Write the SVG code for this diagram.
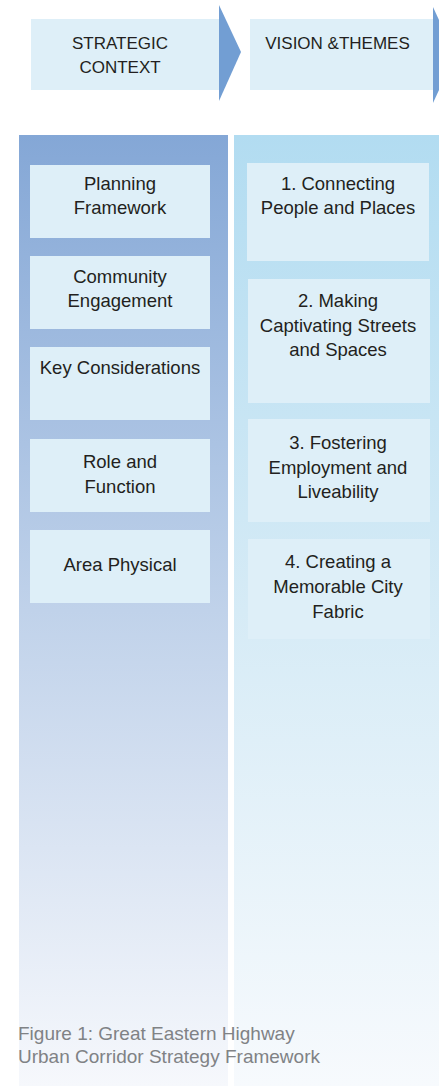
<svg xmlns="http://www.w3.org/2000/svg" width="439" height="1086" viewBox="0 0 439 1086">
  <defs>
    <linearGradient id="gradContext" x1="0" y1="0" x2="0" y2="1">
      <stop offset="0" stop-color="#84a7d6"/>
      <stop offset="0.5" stop-color="#c0d2ea"/>
      <stop offset="1" stop-color="#f6f8fc"/>
    </linearGradient>
    <linearGradient id="gradThemes" x1="0" y1="0" x2="0" y2="1">
      <stop offset="0" stop-color="#b2dcf1"/>
      <stop offset="0.5" stop-color="#d6ebf6"/>
      <stop offset="1" stop-color="#f7fafd"/>
    </linearGradient>
    <style>
      .box { fill: #deeff8; }
      .chevron { fill: #729ed3; }
      .label { font-family: "Liberation Sans", Arial, sans-serif; font-size: 18.5px; fill: #231f20; text-anchor: middle; }
      .head { font-family: "Liberation Sans", Arial, sans-serif; font-size: 17px; fill: #231f20; text-anchor: middle; }
      .caption { font-family: "Liberation Sans", Arial, sans-serif; font-size: 19px; fill: #808285; }
    </style>
  </defs>

  <rect width="439" height="1086" fill="#ffffff"/>

  <!-- Column backgrounds -->
  <rect x="19" y="135" width="209" height="951" fill="url(#gradContext)"/>
  <rect x="234" y="135" width="205" height="951" fill="url(#gradThemes)"/>

  <!-- Header stages -->
  <g id="header-strategic-context">
    <rect class="box" x="31" y="19" width="188" height="71"/>
    <polygon class="chevron" points="219,5 241,52 219,101"/>
    <text class="head" x="120" y="49">STRATEGIC</text>
    <text class="head" x="120" y="73">CONTEXT</text>
  </g>
  <g id="header-vision-themes">
    <rect class="box" x="250" y="19" width="183" height="71"/>
    <polygon class="chevron" points="433,7 455,55 433,103"/>
    <text class="head" x="337.5" y="49">VISION &amp;THEMES</text>
  </g>

  <!-- Strategic context items -->
  <g id="planning-framework">
    <rect class="box" x="30" y="165" width="180" height="73"/>
    <text class="label" x="120" y="190">Planning</text>
    <text class="label" x="120" y="214">Framework</text>
  </g>
  <g id="community-engagement">
    <rect class="box" x="30" y="256" width="180" height="73"/>
    <text class="label" x="120" y="283">Community</text>
    <text class="label" x="120" y="307">Engagement</text>
  </g>
  <g id="key-considerations">
    <rect class="box" x="30" y="347" width="180" height="73"/>
    <text class="label" x="120" y="374">Key Considerations</text>
  </g>
  <g id="role-and-function">
    <rect class="box" x="30" y="439" width="180" height="73"/>
    <text class="label" x="120" y="468">Role and</text>
    <text class="label" x="120" y="493">Function</text>
  </g>
  <g id="area-physical">
    <rect class="box" x="30" y="530" width="180" height="73"/>
    <text class="label" x="120" y="571">Area Physical</text>
  </g>

  <!-- Vision themes -->
  <g id="theme-1">
    <rect class="box" x="247" y="163" width="182" height="98"/>
    <text class="label" x="338" y="190">1. Connecting</text>
    <text class="label" x="338" y="214">People and Places</text>
  </g>
  <g id="theme-2">
    <rect class="box" x="248" y="279" width="182" height="124"/>
    <text class="label" x="338" y="307">2. Making</text>
    <text class="label" x="338" y="332">Captivating Streets</text>
    <text class="label" x="338" y="356">and Spaces</text>
  </g>
  <g id="theme-3">
    <rect class="box" x="248" y="419" width="182" height="103"/>
    <text class="label" x="338" y="449">3. Fostering</text>
    <text class="label" x="338" y="474">Employment and</text>
    <text class="label" x="338" y="498">Liveability</text>
  </g>
  <g id="theme-4">
    <rect class="box" x="248" y="539" width="182" height="100"/>
    <text class="label" x="338" y="568">4. Creating a</text>
    <text class="label" x="338" y="593">Memorable City</text>
    <text class="label" x="338" y="618">Fabric</text>
  </g>

  <!-- Connectors: the stage chevrons above carry the flow; no separate lines -->
  <g id="connectors"></g>

  <!-- Caption -->
  <g id="caption">
    <text class="caption" x="18" y="1040">Figure 1: Great Eastern Highway</text>
    <text class="caption" x="18" y="1063">Urban Corridor Strategy Framework</text>
  </g>
</svg>
